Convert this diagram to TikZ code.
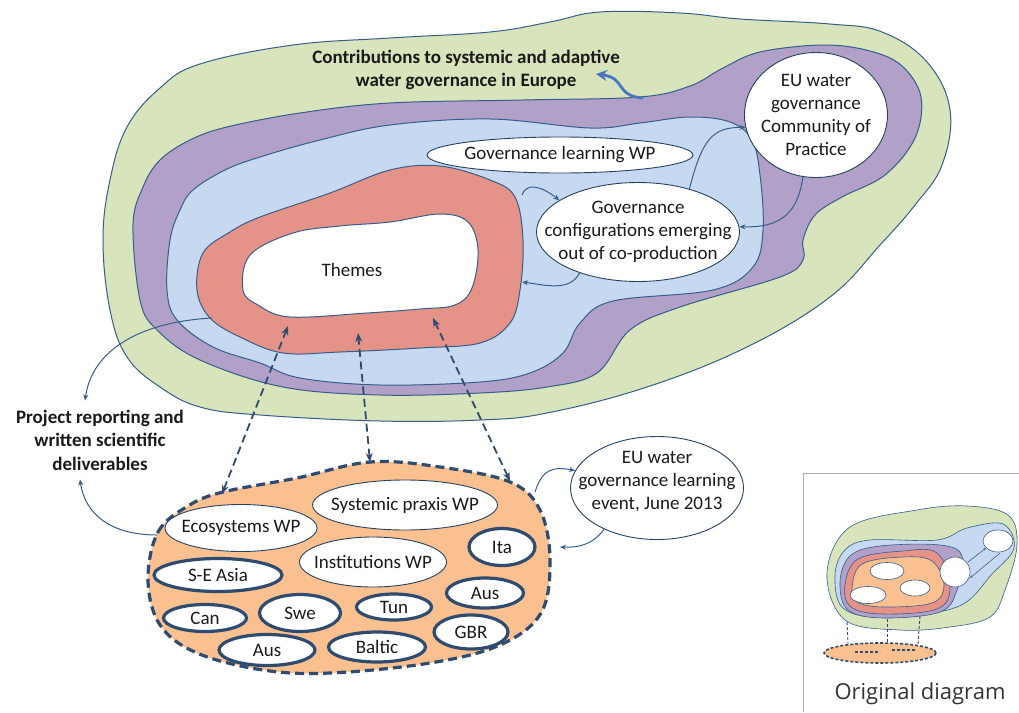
\documentclass[tikz,border=0pt]{standalone}
\usepackage{fontspec}
\setmainfont{Carlito}
\newfontfamily\insetfont{Open Sans}
\usetikzlibrary{shapes.geometric,arrows.meta}
\definecolor{outline}{HTML}{385D8A}
\definecolor{greenfill}{HTML}{D7E4BC}
\definecolor{purplefill}{HTML}{B1A0C7}
\definecolor{bluefill}{HTML}{C6D9F1}
\definecolor{redfill}{HTML}{E59388}
\definecolor{orangefill}{HTML}{FAC090}
\definecolor{navy}{HTML}{2F4B70}
\definecolor{arrowblue}{HTML}{4A76C0}
\definecolor{textdark}{HTML}{1A1A1A}
\begin{document}
\begin{tikzpicture}[x=1pt,y=-1pt,
  ring/.style={draw=outline, line width=1pt},
  lbl/.style={font=\fontsize{19}{23}\selectfont, text=textdark, align=center, inner sep=0pt},
  boldlbl/.style={lbl, font=\fontsize{19}{23.5}\selectfont\bfseries},
  wpell/.style={ellipse, draw=outline!70!black, line width=0.9pt, fill=white, inner sep=0pt},
  ctry/.style={ellipse, draw=navy, line width=3.2pt, fill=white, inner sep=0pt,
    font=\fontsize{19}{23}\selectfont, text=textdark},
  conn/.style={draw=outline, line width=1pt, -{Stealth[length=6pt,width=5pt]}},
  dconn/.style={draw=navy, line width=1.8pt, dash pattern=on 8pt off 4.5pt,
    {Stealth[length=9pt,width=7pt]}-{Stealth[length=9pt,width=7pt]}},
  bluearrow/.style={draw=arrowblue, line width=2.8pt, -{Stealth[length=11pt,width=11pt]}},
  smallring/.style={draw=outline, line width=0.6pt},
]
\useasboundingbox (0,0) rectangle (1019,712);
\fill[white] (0,0) rectangle (1019,712);

% ---- nested rings of the framework ----
\draw[ring, fill=greenfill] plot[smooth cycle, tension=0.65] coordinates {
  (103,240) (110,180) (127,127) (160,88) (200,64) (293,45) (390,38) (490,32)
  (550,22) (600,12) (680,13) (740,19) (830,24) (882,32) (927,62) (950,110)
  (942,165) (915,205) (880,245) (830,297) (747,347) (647,387) (547,413)
  (480,420) (380,421) (260,415) (200,407) (160,387) (127,357) (110,310)};

\draw[ring, fill=purplefill] plot[smooth cycle, tension=0.6] coordinates {
  (133,225) (143,187) (160,160) (190,140) (227,127) (300,113) (390,103)
  (523,100) (640,97) (690,86) (723,68) (760,52) (823,45) (870,51) (902,66)
  (921,97) (915,138) (885,175) (842,197) (815,215) (803,240) (803,260)
  (780,277) (680,307) (630,330) (597,373) (547,387) (480,393) (380,395)
  (283,387) (200,360) (157,330) (140,300)};

\draw[ring, fill=bluefill] plot[smooth cycle, tension=0.6] coordinates {
  (170,240) (180,210) (193,190) (225,170) (260,157) (320,140) (390,125)
  (490,119) (590,128) (640,123) (690,117) (730,122) (752,140) (760,175)
  (763,230) (753,267) (713,290) (613,301) (580,323) (563,353) (530,373)
  (480,382) (380,385) (300,378) (260,363) (213,347) (177,320) (167,290)};

\draw[ring, fill=redfill] plot[smooth cycle, tension=0.6] coordinates {
  (197,290) (203,253) (230,232) (260,217) (330,193) (390,170) (440,166)
  (490,180) (515,197) (523,240) (520,290) (510,323) (480,343) (420,348)
  (340,352) (283,353) (240,337) (210,318)};

\draw[ring, fill=white] plot[smooth cycle, tension=0.6] coordinates {
  (243,290) (250,255) (293,233) (340,226) (390,222) (440,214) (468,222)
  (478,250) (472,288) (455,305) (420,309) (367,313) (290,317) (258,305)};

% ---- project partners and work packages ----
\draw[draw=navy, fill=orangefill, line width=3.2pt, dash pattern=on 9pt off 5pt]
  plot[smooth cycle, tension=0.6] coordinates {
  (148,580) (158,532) (188,506) (223,492) (297,478) (370,462) (440,467)
  (510,482) (540,510) (550,560) (541,613) (500,645) (430,663) (330,673)
  (263,670) (197,653) (160,625)};

\node[wpell, minimum width=185pt, minimum height=50pt,
  label={[lbl]center:Systemic praxis WP}] (spwp) at (405,505) {};
\node[wpell, minimum width=152pt, minimum height=47pt,
  label={[lbl]center:Ecosystems WP}] (ecwp) at (241,528) {};
\node[wpell, minimum width=147pt, minimum height=50pt,
  label={[lbl]center:Institutions WP}] (inwp) at (373,562) {};

\node[ctry, minimum width=66pt, minimum height=37pt] (ita) at (502,547) {Ita};
\node[ctry, minimum width=128pt, minimum height=33pt] (sea) at (218,575) {S-E Asia};
\node[ctry, minimum width=77pt, minimum height=30pt] (ausr) at (485,593) {Aus};
\node[ctry, minimum width=83pt, minimum height=27pt] (can) at (205,618) {Can};
\node[ctry, minimum width=81pt, minimum height=37pt] (swe) at (300,613) {Swe};
\node[ctry, minimum width=75pt, minimum height=26pt] (tun) at (394,607) {Tun};
\node[ctry, minimum width=74pt, minimum height=34pt] (gbr) at (471,632) {GBR};
\node[ctry, minimum width=97pt, minimum height=30pt] (bal) at (377,647) {Baltic};
\node[ctry, minimum width=96pt, minimum height=31pt] (ausb) at (267,650) {Aus};

% ---- labels and nodes in the rings ----
\node[lbl] (themes) at (352,270) {Themes};
\node[boldlbl] (contrib) at (466,70) {Contributions to systemic and adaptive\\water governance in Europe};
\node[boldlbl, inner sep=9pt] (rep) at (100,440) {Project reporting and\\written scientific\\deliverables};

\node[wpell, minimum width=266pt, minimum height=36pt,
  label={[lbl]center:Governance learning WP}] (glwp) at (560,155) {};
\node[wpell, minimum width=203pt, minimum height=99pt,
  label={[lbl]center:{Governance\\configurations emerging\\out of co-production}}] (cfg) at (638,232) {};
\node[wpell, minimum width=143pt, minimum height=125pt,
  label={[lbl]center:{EU water\\governance\\Community of\\Practice}}] (eucop) at (816,115) {};
\node[wpell, minimum width=173pt, minimum height=103pt,
  label={[lbl, yshift=6pt]center:{EU water\\governance learning\\event, June 2013}}] (lev) at (657,488) {};

% ---- connector end points on the regions ----
\coordinate (tL) at (288,326);
\coordinate (tM) at (358,333);
\coordinate (tR) at (433,318);
\coordinate (oL) at (222,494);
\coordinate (oM) at (370,462);
\coordinate (oR) at (510,481);
\coordinate (repFrom) at (212,318);
\coordinate (orL) at (157,535);
\coordinate (orR1) at (535,492);
\coordinate (orR2) at (560,547);
\coordinate (redR) at (522,282);
\coordinate (redT) at (522,195);
\coordinate (blueFrom) at (643,98);
\coordinate (contribTip) at (596,74);

% ---- connectors ----
\draw[dconn] (oL) -- (tL);
\draw[dconn] (oM) -- (tM);
\draw[dconn] (oR) -- (tR);

\draw[conn] (cfg.40) .. controls (702,140) and (712,127) .. (eucop.190);
\draw[conn] (eucop.258) .. controls (798,212) and (782,228) .. (cfg.3);
\draw[conn] (cfg.215) .. controls (570,292) and (545,285) .. (redR);
\draw[conn] (redT) .. controls (526,183) and (540,185) .. (cfg.158);
\draw[conn] (repFrom) .. controls (140,322) and (92,350) .. ([xshift=-15pt]rep.north);
\draw[conn] (orL) .. controls (112,535) and (85,515) .. ([xshift=-20pt]rep.south);
\draw[conn] (orR1) .. controls (542,470) and (552,466) .. (lev.168);
\draw[conn] (lev.218) .. controls (596,540) and (585,548) .. (orR2);
\draw[bluearrow] (blueFrom) .. controls (615,96) and (626,78) .. (contribTip);

% ---- inset: the original layout in miniature ----
\draw[gray!65, line width=1pt] (1019,473) -- (803,473) -- (803,712);
\draw[smallring, fill=greenfill] plot[smooth cycle, tension=0.6] coordinates {
  (827,573) (850,527) (917,510) (967,506) (1008,515) (1017,545) (1005,590)
  (990,617) (950,627) (900,630) (845,620)};
\draw[smallring, fill=bluefill] plot[smooth cycle, tension=0.6] coordinates {
  (835,575) (845,550) (870,540) (937,540) (967,528) (1003,524) (1014,548)
  (992,574) (957,607) (883,617) (843,608)};
\draw[smallring, fill=purplefill] plot[smooth cycle, tension=0.6] coordinates {
  (840,582) (850,556) (880,546) (940,545) (962,556) (957,590) (940,612)
  (883,618) (848,610)};
\draw[smallring, fill=redfill] plot[smooth cycle, tension=0.6] coordinates {
  (845,585) (858,559) (903,551) (937,553) (950,587) (937,609) (883,614) (851,607)};
\draw[smallring, fill=orangefill] plot[smooth cycle, tension=0.6] coordinates {
  (852,588) (862,564) (903,557) (932,561) (944,585) (932,603) (883,607) (857,602)};
\draw[smallring, fill=white] (887,571) ellipse (17 and 8.5);
\draw[smallring, fill=white] (915,588) ellipse (15 and 8);
\draw[smallring, fill=white] (868,595) ellipse (18 and 8.5);
\draw[smallring, fill=white] (955,572) ellipse (15 and 15);
\draw[smallring, fill=white] (998,541) ellipse (15 and 11);
\draw[outline, line width=0.6pt, -{Stealth[length=3pt]}] (968,562) -- (986,548);
\draw[outline, line width=0.6pt, -{Stealth[length=3pt]}] (1000,553) -- (970,578);
\draw[draw=navy, fill=orangefill, line width=1.6pt, dash pattern=on 3pt off 2pt]
  (880,653) ellipse (56 and 10);
\draw[navy, line width=1.2pt, dash pattern=on 3pt off 2pt] (855,652) -- (880,652) (892,650) -- (915,650);
\draw[navy, line width=0.9pt, dash pattern=on 3pt off 2pt] (847,622) -- (848,644);
\draw[navy, line width=0.9pt, dash pattern=on 3pt off 2pt] (887,619) -- (887,643);
\draw[navy, line width=0.9pt, dash pattern=on 3pt off 2pt] (920,616) -- (918,644);
\node[font=\insetfont\fontsize{22}{26}\selectfont, text=black!80, inner sep=0pt] (orig) at (920,694) {Original diagram};
\end{tikzpicture}
\end{document}
